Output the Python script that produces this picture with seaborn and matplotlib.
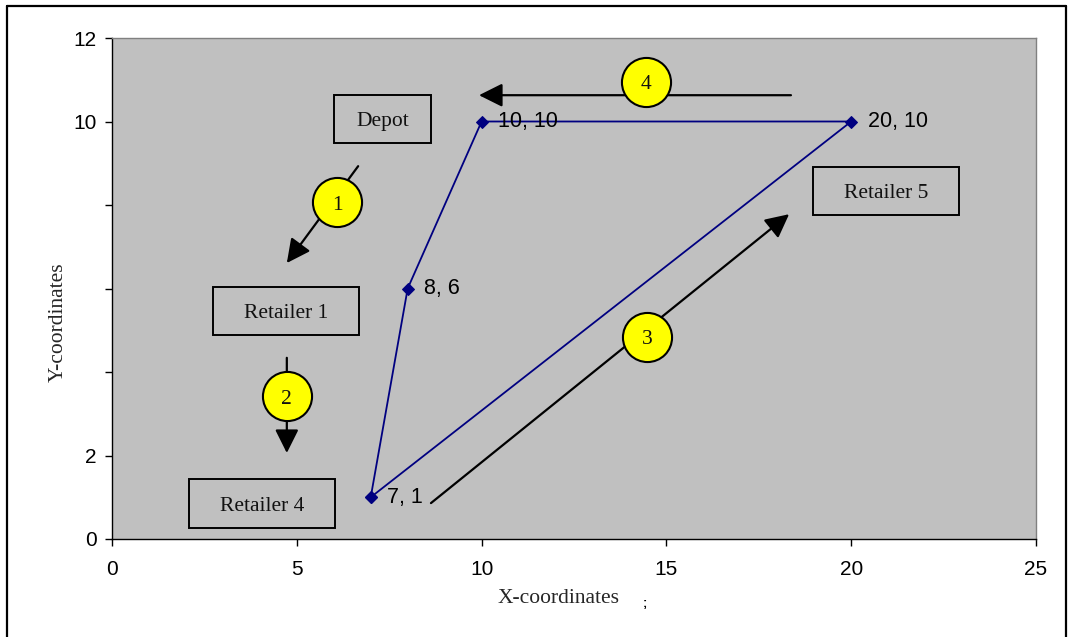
import matplotlib
matplotlib.use("Agg")
import matplotlib.pyplot as plt
from matplotlib.patches import Rectangle
from matplotlib.lines import Line2D
import seaborn as sns
import pandas as pd

# Route through the network: retailer 4 -> retailer 1 -> depot -> retailer 5 -> back
route_x = [7, 8, 10, 20, 7]
route_y = [1, 6, 10, 10, 1]
point_labels = ["7, 1", "8, 6", "10, 10", "20, 10"]

x_ticks = [0, 5, 10, 15, 20, 25]
y_ticks = [0, 2, 4, 6, 8, 10, 12]
y_tick_labels = ["0", "2", "", "", "", "10", "12"]

# Named location boxes: (label, x0, y0, x1, y1)
boxes = [
    ("Depot", 6.01, 9.49, 8.63, 10.63),
    ("Retailer 1", 2.73, 4.89, 6.68, 6.04),
    ("Retailer 4", 2.08, 0.26, 6.03, 1.44),
    ("Retailer 5", 18.97, 7.76, 22.92, 8.91),
]

# Step arrows (start -> end) and their numbered badges
arrow_starts = [(6.66, 8.93), (4.73, 4.34), (8.63, 0.86), (18.37, 10.63)]
arrow_ends = [(4.73, 6.61), (4.73, 2.06), (18.32, 7.78), (9.93, 10.63)]
badge_x = [6.09, 4.73, 14.47, 14.45]
badge_y = [8.07, 3.42, 4.84, 10.95]
badge_text = ["1", "2", "3", "4"]

sns.set_style("white")
plt.rcParams["font.family"] = ["Liberation Sans", "DejaVu Sans"]

fig = plt.figure(figsize=(10.69, 6.37), dpi=100)
ax = fig.add_axes([112 / 1069, 1 - 539 / 637, 924 / 1069, 501 / 637])
ax.set_facecolor("#C0C0C0")

df = pd.DataFrame({"x": route_x, "y": route_y})
sns.lineplot(data=df, x="x", y="y", sort=False, estimator=None, ax=ax,
             color="#000080", linewidth=1.3, marker="D", markersize=6.5,
             markeredgecolor="#000080", zorder=3)

for lx, ly, lab in zip(route_x[:-1], route_y[:-1], point_labels):
    ax.annotate(lab, (lx, ly), xytext=(12, 0), textcoords="offset points",
                ha="left", va="center", fontsize=15.5, color="black", zorder=4)

serif = ["Liberation Serif", "DejaVu Serif"]
for lab, x0, y0, x1, y1 in boxes:
    ax.add_patch(Rectangle((x0, y0), x1 - x0, y1 - y0, facecolor="#C0C0C0",
                           edgecolor="black", linewidth=1.4, zorder=2))
    ax.text((x0 + x1) / 2, (y0 + y1) / 2 - 0.07, lab, ha="center", va="center",
            fontsize=15.5, family=serif, color="#111111", zorder=3)

for (sx, sy), (ex, ey) in zip(arrow_starts, arrow_ends):
    ax.annotate("", xy=(ex, ey), xytext=(sx, sy),
                arrowprops=dict(arrowstyle="-|>,head_length=0.9,head_width=0.45",
                                color="black", lw=1.6, shrinkA=0, shrinkB=0,
                                mutation_scale=16),
                zorder=5)

ax.scatter(badge_x, badge_y, s=1250, color="yellow", edgecolor="black",
           linewidth=1.5, zorder=6)
for bx, by, bt in zip(badge_x, badge_y, badge_text):
    ax.text(bx, by - 0.07, bt, ha="center", va="center", fontsize=15.5,
            family=serif, color="#111111", zorder=7)

ax.set_xlim(0, 25)
ax.set_ylim(0, 12)
ax.set_xticks(x_ticks)
ax.set_xticklabels([str(t) for t in x_ticks])
ax.set_yticks(y_ticks)
ax.set_yticklabels(y_tick_labels)
ax.tick_params(axis="x", direction="out", length=5, width=1, pad=10,
               labelsize=15, colors="black")
ax.tick_params(axis="y", direction="out", length=5, width=1, pad=6,
               labelsize=15, colors="black")
ax.tick_params(bottom=True, left=True)

for side in ["left", "bottom"]:
    ax.spines[side].set_color("black")
    ax.spines[side].set_linewidth(1.0)
for side in ["top", "right"]:
    ax.spines[side].set_color("#808080")
    ax.spines[side].set_linewidth(1.0)
    ax.spines[side].set_visible(True)

ax.set_xlabel("X-coordinates", fontsize=15.5, family=serif)
ax.set_ylabel("Y-coordinates", fontsize=15.5, family=serif)
ax.xaxis.set_label_coords(0.483, -0.100)
ax.yaxis.set_label_coords(-0.058, 0.433)
ax.yaxis.label.set_va("center")

fig.text(645 / 1069, 1 - 604 / 637, ";", fontsize=9, ha="center", va="center",
         color="black", fontweight="bold")

# Outer frame around the whole chart
frame_kw = dict(color="black", linewidth=1.6, transform=fig.transFigure)
fig.add_artist(Line2D([7 / 1069, 7 / 1069], [0, 1 - 6 / 637], **frame_kw))
fig.add_artist(Line2D([7 / 1069, 1066 / 1069], [1 - 6 / 637, 1 - 6 / 637], **frame_kw))
fig.add_artist(Line2D([1066 / 1069, 1066 / 1069], [0, 1 - 6 / 637], **frame_kw))

fig.savefig("out.png", dpi=100, facecolor="white")
